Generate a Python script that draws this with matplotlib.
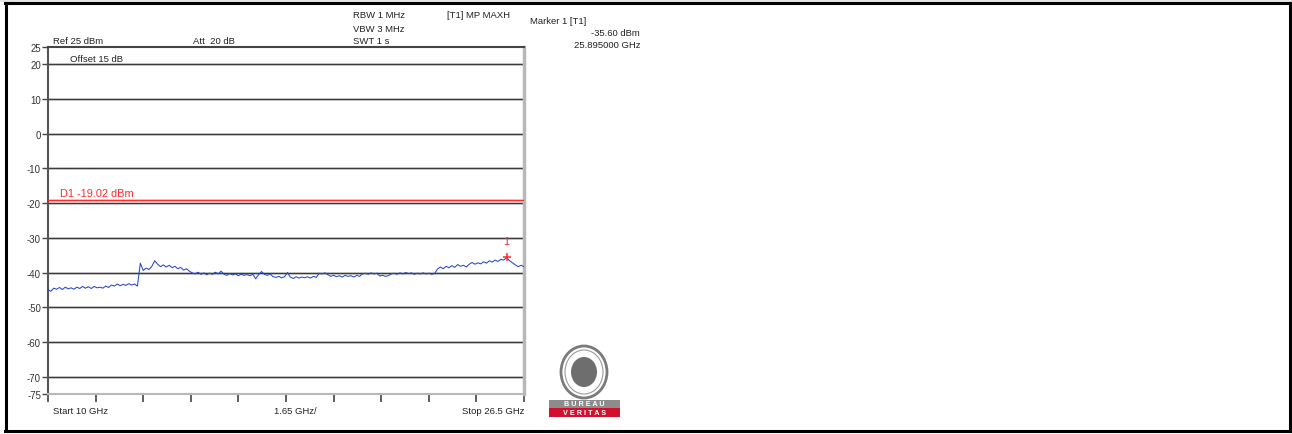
import matplotlib
matplotlib.use("Agg")
import matplotlib.pyplot as plt
from matplotlib.patches import Rectangle, Ellipse
from matplotlib.lines import Line2D
import numpy as np

plt.rcParams['font.family'] = ['Liberation Sans', 'DejaVu Sans']

# sweep 10 .. 26.5 GHz, one point per 100 MHz
freq_start = 10.0
freq_stop = 26.5
level_dbm = [
    -44.9, -45.4, -44.5, -44.8, -44.3, -44.9, -44.2, -44.7, -44.4, -44.8,
    -44.2, -44.6, -44.0, -44.5, -44.1, -44.6, -44.0, -44.4, -44.2, -44.5,
    -43.9, -44.3, -43.6, -43.9, -43.3, -43.8, -43.4, -43.7, -43.2, -43.6,
    -43.3, -43.9, -37.3, -39.4, -38.7, -39.1, -38.2, -36.6, -37.6, -38.3,
    -37.8, -38.4, -37.9, -38.6, -38.2, -38.9, -38.5, -39.3, -38.9, -39.6,
    -40.1, -40.4, -39.9, -40.5, -40.1, -40.6, -40.2, -40.5, -39.9, -40.4,
    -39.6, -40.5, -40.8, -40.3, -40.7, -40.4, -40.9, -40.5, -40.8, -40.6,
    -40.9, -40.5, -41.8, -40.6, -39.7, -40.5, -40.8, -40.4, -41.2, -41.4,
    -41.1, -41.5, -41.2, -40.0, -41.3, -41.7, -41.2, -41.6, -41.3, -41.5,
    -41.2, -41.6, -41.1, -41.4, -40.2, -40.4, -40.1, -40.6, -41.1, -40.8,
    -41.2, -40.9, -41.3, -40.8, -41.1, -40.9, -41.3, -40.8, -41.1, -40.4,
    -40.2, -40.5, -40.1, -40.4, -40.2, -41.0, -40.8, -41.1, -40.9, -40.4,
    -40.2, -40.5, -40.1, -40.4, -40.0, -40.3, -40.1, -40.5, -40.2, -40.4,
    -40.1, -40.4, -40.2, -40.5, -40.3, -39.0, -38.4, -38.9, -38.2, -38.6,
    -38.0, -38.5, -37.7, -38.2, -37.9, -38.4, -37.6, -37.1, -37.6, -37.2,
    -37.5, -36.9, -37.3, -36.6, -37.0, -36.4, -36.8, -36.2, -36.4, -35.6,
    -36.6, -37.2, -37.8, -38.3, -37.9, -38.3,
]
freq_ghz = np.linspace(freq_start, freq_stop, len(level_dbm))

marker_freq = 25.895
marker_level = -35.60
d1_level = -19.02

y_ticks = [25, 20, 10, 0, -10, -20, -30, -40, -50, -60, -70, -75]
grid_levels = [20, 10, 0, -10, -20, -30, -40, -50, -60, -70]
n_div = 10

W, H = 1292, 435
fig = plt.figure(figsize=(W / 100, H / 100), dpi=100)


def fx(x):
    return x / W


def fy(y):
    return 1 - y / H


# outer table frame
fig.add_artist(Rectangle((0, fy(3)), 1, 3 / H, transform=fig.transFigure,
                         facecolor='#e4e4e4', edgecolor='none'))
for xs, ys in [([fx(5), fx(1290)], [fy(4), fy(4)]),
               ([fx(5), fx(1290)], [fy(432), fy(432)]),
               ([fx(6), fx(6)], [fy(4), fy(432)]),
               ([fx(1290), fx(1290)], [fy(4), fy(432)])]:
    fig.add_artist(Line2D(xs, ys, transform=fig.transFigure, color='black', lw=2.2))

ax = fig.add_axes([fx(48), fy(395), fx(524) - fx(48), fy(48) - fy(395)])
ax.set_xlim(freq_start, freq_stop)
ax.set_ylim(-75, 25)

for g in grid_levels:
    ax.axhline(g, color='#d0d0d0', lw=2.0, zorder=1)
    ax.axhline(g, color='#3a3a3a', lw=0.9, zorder=2)

ax.axhline(d1_level, color='#ffc8c8', lw=2.0, zorder=2)
ax.axhline(d1_level, color='#ff2a2a', lw=0.9, zorder=3)
ax.text(10.4, d1_level + 0.4, 'D1 -19.02 dBm', color='#ff2a2a', fontsize=7.9,
        ha='left', va='bottom', zorder=4)

ax.plot(freq_ghz, level_dbm, color='#2448d0', lw=0.75, zorder=5)
ax.plot([marker_freq], [marker_level], marker='+', color='#ff2a2a', ms=6, mew=1.1, zorder=6)
ax.annotate('1', (marker_freq, marker_level), xytext=(0, 12), textcoords='offset points',
            color='#ff2a2a', fontsize=7.9, ha='center', va='center')

ax.set_yticks(y_ticks)
ax.set_yticklabels([str(t) for t in y_ticks])
ax.set_xticks(np.linspace(freq_start, freq_stop, n_div + 1))
ax.set_xticklabels([])
ax.tick_params(axis='y', direction='out', length=4, width=1, color='#444444',
               labelsize=6.9, labelcolor='#333333', pad=1)
ax.tick_params(axis='x', direction='out', length=6, width=1.2, color='#444444')

ax.spines['left'].set_color('#555555')
ax.spines['left'].set_linewidth(1.5)
ax.spines['top'].set_color('#444444')
ax.spines['top'].set_linewidth(1.5)
ax.spines['right'].set_color('#b8b8b8')
ax.spines['right'].set_linewidth(2.5)
ax.spines['bottom'].set_color('#b8b8b8')
ax.spines['bottom'].set_linewidth(1.5)

fs = 6.8
tc = '#222222'
fig.text(fx(53), fy(42), 'Ref 25 dBm', fontsize=fs, color=tc, va='center')
fig.text(fx(193), fy(42), 'Att  20 dB', fontsize=fs, color=tc, va='center')
fig.text(fx(353), fy(16), 'RBW 1 MHz', fontsize=fs, color=tc, va='center')
fig.text(fx(353), fy(29), 'VBW 3 MHz', fontsize=fs, color=tc, va='center')
fig.text(fx(353), fy(41), 'SWT 1 s', fontsize=fs, color=tc, va='center')
fig.text(fx(447), fy(16), '[T1] MP MAXH', fontsize=fs, color=tc, va='center')
fig.text(fx(530), fy(21), 'Marker 1 [T1]', fontsize=fs, color=tc, va='center')
fig.text(fx(640), fy(33), '-35.60 dBm', fontsize=fs, color=tc, va='center', ha='right')
fig.text(fx(640), fy(45), '25.895000 GHz', fontsize=fs, color=tc, va='center', ha='right')
fig.text(fx(70), fy(59), 'Offset 15 dB', fontsize=fs, color=tc, va='center')
fig.text(fx(53), fy(412), 'Start 10 GHz', fontsize=fs, color=tc, va='center')
fig.text(fx(274), fy(412), '1.65 GHz/', fontsize=fs, color=tc, va='center')
fig.text(fx(524), fy(412), 'Stop 26.5 GHz', fontsize=fs, color=tc, va='center', ha='right')

# Bureau Veritas logo
fig.add_artist(Ellipse((fx(584), fy(373)), 46 / W, 52 / H, transform=fig.transFigure,
                       facecolor='white', edgecolor='#7a7a7a', lw=2.0))
fig.add_artist(Ellipse((fx(584), fy(373)), 38 / W, 44 / H, transform=fig.transFigure,
                       facecolor='white', edgecolor='#9a9a9a', lw=0.8))
fig.add_artist(Ellipse((fx(584), fy(373)), 26 / W, 30 / H, transform=fig.transFigure,
                       facecolor='#6e6e6e', edgecolor='none'))
fig.add_artist(Rectangle((fx(549), fy(409)), 71 / W, 8 / H, transform=fig.transFigure,
                         facecolor='#8c8c8c', edgecolor='none'))
fig.add_artist(Rectangle((fx(549), fy(418)), 71 / W, 9 / H, transform=fig.transFigure,
                         facecolor='#d2102e', edgecolor='none'))
fig.text(fx(584.5), fy(405), 'B U R E A U', fontsize=5.2, color='white', ha='center',
         va='center', fontweight='bold')
fig.text(fx(584.5), fy(413.5), 'V E R I T A S', fontsize=5.2, color='white', ha='center',
         va='center', fontweight='bold')

fig.savefig('out.png', dpi=100)
